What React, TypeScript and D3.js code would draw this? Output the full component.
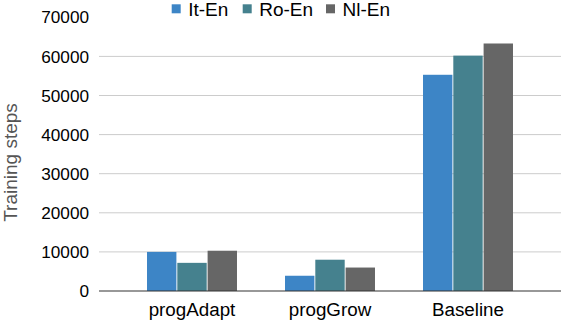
import React from "react";
import * as d3 from "d3";

const categories = ["progAdapt", "progGrow", "Baseline"];
const seriesNames = ["It-En", "Ro-En", "Nl-En"];
const itEn = [10000, 3900, 55300];
const roEn = [7200, 8000, 60200];
const nlEn = [10300, 6000, 63300];
const yTicks = [0, 10000, 20000, 30000, 40000, 50000, 60000, 70000];
const colors = ["#3d85c6", "#45818e", "#666666"];

const W = 562;
const H = 322;

export default function App() {
  const series = [itEn, roEn, nlEn];
  const y = d3.scaleLinear().domain([0, 70000]).range([291, 17.3]);
  const x0 = d3.scaleBand<string>().domain(categories).range([123, 537]).paddingInner(0.348).paddingOuter(0.174);
  const x1 = d3.scaleBand<string>().domain(seriesNames).range([0, x0.bandwidth()]).paddingInner(0.03).paddingOuter(0);
  const font = "'Liberation Sans', Arial, sans-serif";
  const legendX = [171.7, 242.7, 326];
  return (
    <svg width={W} height={H} style={{ position: "absolute", left: 0, top: 0, display: "block", background: "#fff" }} fontFamily={font}>
      {yTicks.map((t) => (
        <g key={t}>
          {t > 0 && t < 70000 && <line x1={99} x2={561} y1={y(t)} y2={y(t)} stroke="#cccccc" strokeWidth={1} />}
          <text x={89} y={y(t)} dy="0.36em" textAnchor="end" fontSize={17.2} fill="#000">{t}</text>
        </g>
      ))}
      {categories.map((c, i) => (
        <g key={c} transform={`translate(${x0(c)},0)`}>
          {series.map((s, j) => (
            <rect key={j} x={x1(seriesNames[j])} y={y(s[i])} width={x1.bandwidth()} height={y(0) - y(s[i])} fill={colors[j]} />
          ))}
          <text x={x0.bandwidth() / 2} y={315.7} textAnchor="middle" fontSize={18.8} fill="#000">{c}</text>
        </g>
      ))}
      <line x1={99} x2={561} y1={y(0)} y2={y(0)} stroke="#333" strokeWidth={1.2} />
      <text transform={`translate(16.5,162.5) rotate(-90)`} textAnchor="middle" fontSize={19} fill="#555">Training steps</text>
      {seriesNames.map((n, j) => (
        <g key={n}>
          <rect x={legendX[j]} y={4.3} width={9} height={9} fill={colors[j]} />
          <text x={legendX[j] + 16.5} y={16} fontSize={19} fill="#000">{n}</text>
        </g>
      ))}
    </svg>
  );
}
